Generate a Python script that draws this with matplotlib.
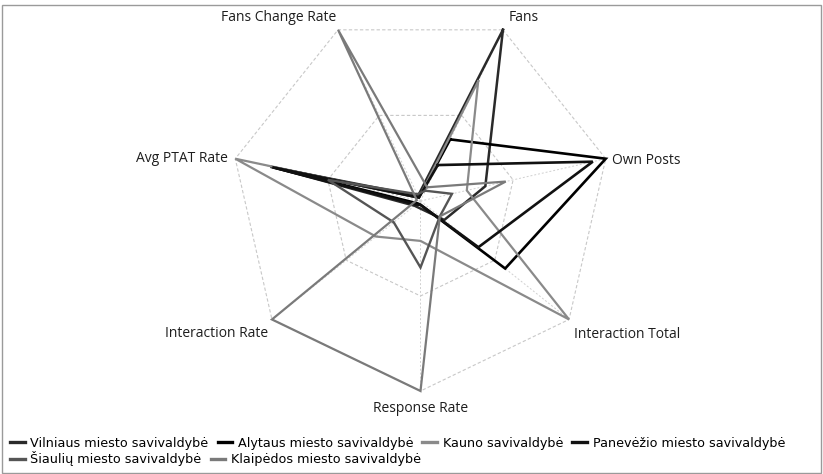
import numpy as np
import matplotlib
matplotlib.use("Agg")
import matplotlib.pyplot as plt
from matplotlib.lines import Line2D
from matplotlib.patches import Rectangle

# axes of the radar, clockwise from the top
categories = ["Fans", "Own Posts", "Interaction Total", "Response Rate",
              "Interaction Rate", "Avg PTAT Rate", "Fans Change Rate"]

# normalised values, same order as categories
vilniaus   = [1.00, 0.35, 0.16, 0.04, 0.04, 0.78, 0.03]
alytaus    = [0.36, 1.00, 0.57, 0.02, 0.02, 0.81, 0.02]
kauno      = [0.70, 0.25, 1.00, 0.21, 0.30, 1.00, 0.02]
panevezio  = [0.21, 0.93, 0.39, 0.02, 0.03, 0.80, 0.02]
siauliu    = [0.06, 0.17, 0.13, 0.35, 0.18, 0.50, 0.04]
klaipedos  = [0.08, 0.46, 0.13, 1.00, 1.00, 0.02, 1.00]

series_names = ["Vilniaus miesto savivaldybė", "Alytaus miesto savivaldybė",
                "Kauno savivaldybė", "Panevėžio miesto savivaldybė",
                "Šiaulių miesto savivaldybė", "Klaipėdos miesto savivaldybė"]
series_vals = [vilniaus, alytaus, kauno, panevezio, siauliu, klaipedos]
series_cols = ["#2a2a2a", "#000000", "#8a8a8a", "#111111", "#555555", "#7a7a7a"]
series_lw = [1.8, 1.9, 1.6, 1.9, 1.7, 1.6]

# label offsets in pixels from the tip of each axis
label_pos = [((6, 12), "left"), ((6, -2), "left"), ((5, -15), "left"),
             ((0, -17), "center"), ((-4, -14), "right"), ((-7, 0), "right"),
             ((-2, 12), "right")]

W, H = 823, 474
fig = plt.figure(figsize=(W / 100, H / 100), dpi=100)
fig.patch.set_facecolor("white")

# frame around the whole picture
fig.patches.append(Rectangle((2 / W, 1 / H), 819 / W, 468 / H, transform=fig.transFigure,
                             fill=False, edgecolor="#9a9a9a", lw=1.0))

ax = fig.add_axes([230.5 / W, 83 / H, 380 / W, 380 / H], projection="polar")
ax.set_theta_direction(-1)
ax.set_theta_offset(np.pi / 2 - np.pi / 7)
ax.set_ylim(0, 1)
ax.grid(False)
ax.set_xticks([])
ax.set_yticks([])
ax.spines["polar"].set_visible(False)
ax.patch.set_alpha(0)

n = len(categories)
angles = np.arange(n) * 2 * np.pi / n
closed = np.append(angles, angles[0])

# polygon grid + spokes
for lev in [0.5, 1.0]:
    ax.plot(closed, [lev] * (n + 1), color="#c8c8c8", lw=0.8, ls=(0, (3, 2)), clip_on=False, zorder=1)
for a in angles:
    ax.plot([a, a], [0, 1], color="#d0d0d0", lw=0.7, ls=(0, (2, 2)), clip_on=False, zorder=1)

for name, vals, col, lw in zip(series_names, series_vals, series_cols, series_lw):
    v = np.append(vals, vals[0])
    ax.plot(closed, v, color=col, lw=lw, clip_on=False, zorder=3, solid_joinstyle="miter")

for a, lab, (off, ha) in zip(angles, categories, label_pos):
    ax.annotate(lab, xy=(a, 1.0), xytext=off, textcoords="offset pixels",
                ha=ha, va="center", fontsize=10, family="Open Sans", color="#1e1e1e",
                annotation_clip=False)

# legend: two flowing rows
def handles(idx):
    return [Line2D([], [], color=series_cols[i], lw=2.4) for i in idx]

leg_kw = dict(frameon=False, fontsize=9.2, handlelength=1.15, handletextpad=0.45,
              columnspacing=0.7, borderpad=0, borderaxespad=0, loc="center left")
row1 = [0, 1, 2, 3]
row2 = [4, 5]
leg1 = fig.legend(handles(row1), [series_names[i] for i in row1], ncol=4,
                  bbox_to_anchor=(10 / W, 1 - 443 / H), **leg_kw)
leg2 = fig.legend(handles(row2), [series_names[i] for i in row2], ncol=2,
                  bbox_to_anchor=(10 / W, 1 - 459 / H), **leg_kw)

fig.savefig("out.png", dpi=100)
